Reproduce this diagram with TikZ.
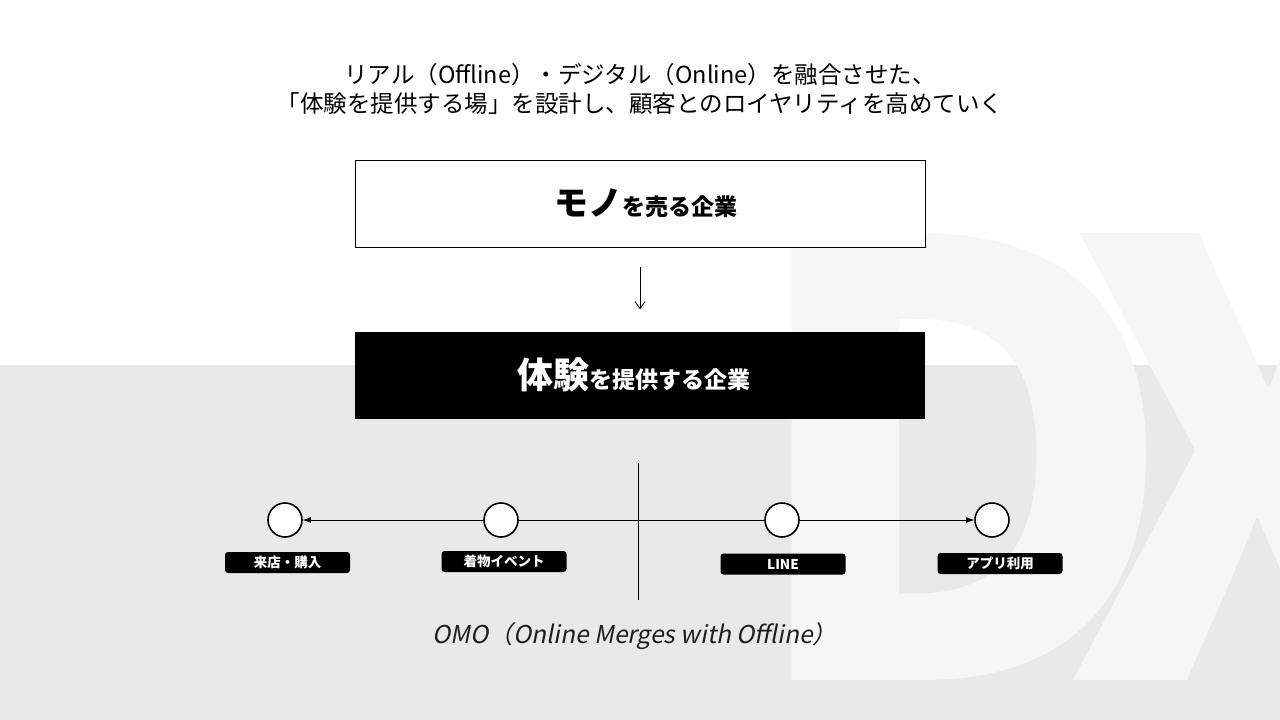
\documentclass[tikz,border=0pt]{standalone}
\usepackage{fontspec}
\setmainfont{Noto Sans CJK JP}
\newfontfamily\jpit[FakeSlant=0.2]{Noto Sans CJK JP}
\usetikzlibrary{arrows.meta}
\definecolor{band}{HTML}{E9E9E9}
\definecolor{wm}{HTML}{F6F6F6}
\definecolor{captxt}{HTML}{1E1E1E}
\begin{document}
\begin{tikzpicture}[x=1pt,y=-1pt,
  bigbox/.style={minimum width=570pt, minimum height=87pt, inner sep=0pt},
  dot/.style={circle, draw=black, line width=1.6pt, fill=white, minimum size=34pt, inner sep=0pt},
  tag/.style={fill=black, rounded corners=3pt, minimum width=125pt, minimum height=21pt, inner sep=0pt, text=white, font=\bfseries\fontsize{13.5}{13.5}\selectfont},
  link/.style={line width=0.8pt, draw=black},
  wmglyph/.style={anchor=base west, text=wm, inner sep=0pt, font=\bfseries\fontsize{600}{600}\selectfont},
]
\useasboundingbox (0,0) rectangle (1280,720);
\fill[white] (0,0) rectangle (1280,365);
\fill[band] (0,365) rectangle (1280,720);
% watermark
\node[wmglyph] (wmd) at (740,680) {D};
\node[wmglyph] (wmx) at (1065,680) {X};
% title
\node[align=center, font=\fontsize{23.5}{29}\selectfont] (title) at (640,89) {リアル（Offline）・デジタル（Online）を融合させた、\\「体験を提供する場」を設計し、顧客とのロイヤリティを高めていく};
% boxes
\node[bigbox, draw=black, line width=0.8pt, fill=white] (mono) at (640,203.5) {\hspace*{12pt}\bfseries\fontsize{34}{34}\selectfont モノ\fontsize{23}{23}\selectfont を売る企業};
\node[bigbox, fill=black, text=white] (exp) at (640,375) {\raisebox{-4pt}{\bfseries\fontsize{36}{36}\selectfont 体験\fontsize{23}{23}\selectfont を提供する企業}\hspace*{12pt}};
\draw[line width=0.9pt, -{Straight Barb[length=7pt,width=10pt]}, shorten <=20pt, shorten >=22pt] (mono) -- (exp);
% axis
\coordinate (axtop) at (638,463);
\coordinate (axbot) at (638,600);
\coordinate (o) at (638,520);
\draw[link] (axtop) -- (axbot);
% circles
\node[dot] (c1) at (285,520) {};
\node[dot] (c2) at (501,520) {};
\node[dot] (c3) at (782,520) {};
\node[dot] (c4) at (992,520) {};
\draw[link] (o) -- (c2);
\draw[link, -{Latex[length=8pt,width=6pt]}] (c2) -- (c1);
\draw[link] (o) -- (c3);
\draw[link, -{Latex[length=8pt,width=6pt]}] (c3) -- (c4);
% tags
\node[tag] (t1) at (287.5,562.5) {来店・購入};
\node[tag] (t2) at (504,561.5) {着物イベント};
\node[tag] (t3) at (783,564) {LINE};
\node[tag] (t4) at (1000,563.5) {アプリ利用};
% caption
\node[text=captxt, font=\jpit\fontsize{24.5}{24.5}\selectfont] (omo) at (635,636) {OMO（Online Merges with Offline）};
\end{tikzpicture}
\end{document}
